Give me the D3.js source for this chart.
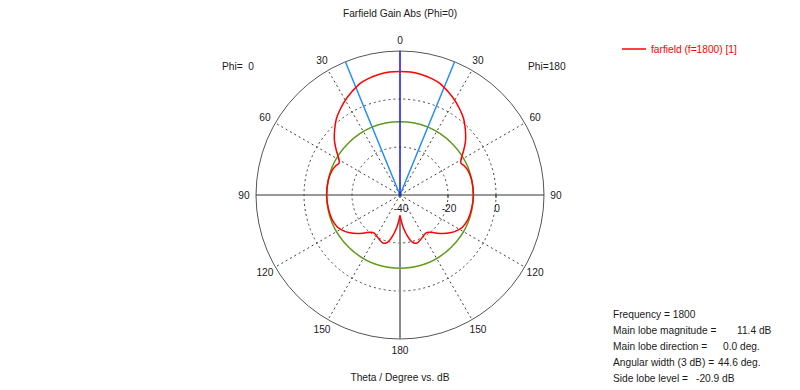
<!DOCTYPE html>
<html>
<head>
<meta charset="utf-8">
<script src="https://cdn.jsdelivr.net/npm/d3@7"></script>
<style>
  body { margin: 0; background: #fff; }
  svg text { font-family: "Liberation Sans", Arial, sans-serif; font-size: 10.2px; fill: #1a1a1a; }
</style>
</head>
<body>
<div id="chart"></div>
<script>
// farfield cut, theta in degrees (mirrored for both halves), gain in dB
var thetaDeg = [0, 5, 10, 15, 20, 22.3, 25, 30, 35, 40, 45, 50, 55, 58, 62, 66, 70, 78, 90, 100, 110, 117, 122, 127, 132, 137, 142, 146, 150, 155, 160, 164, 167, 170, 173, 175, 177, 180];
var gainDb   = [11.5, 11.4, 11.0, 10.3, 9.3, 8.4, 7.5, 5.6, 3.5, 1.3, -1.5, -4.3, -7.6, -9.6, -11.3, -10.5, -9.9, -9.5, -9.4, -9.6, -9.9, -10.7, -12.0, -13.8, -16.0, -18.4, -20.3, -20.8, -20.4, -19.6, -18.8, -19.2, -20.5, -22.8, -25.3, -27.0, -29.0, -31.5];

var angleTicks = [0, 30, 60, 90, 120, 150, 180];
var dbTicks = [-40, -20, 0];
var dbGrid = [-20, 0];
var mainLobeDir = 0;
var halfWidth = 22.3;      // 44.6 deg / 2
var sideLobeDb = -9.5;     // 11.4 - 20.9
var infoLabels = ["Frequency = 1800", "Main lobe magnitude =", "Main lobe direction =", "Angular width (3 dB) =", "Side lobe level ="];
var infoValues = ["", "11.4 dB", "0.0 deg.", "44.6 deg.", "-20.9 dB"];
var infoValueX = [0, 737, 723, 718, 696];

var width = 800, height = 390;
var cx = 400, cy = 195;

var svg = d3.select("#chart").append("svg")
  .attr("width", width)
  .attr("height", height);

var r = d3.scaleLinear().domain([-40, 20]).range([0, 144]);
var rad = function(deg) { return deg * Math.PI / 180; };

var g = svg.append("g").attr("transform", "translate(" + cx + "," + cy + ")");

// dashed grid circles
g.selectAll(".grid")
  .data(dbGrid)
  .enter().append("circle")
    .attr("r", function(d) { return r(d); })
    .attr("fill", "none")
    .attr("stroke", "#404040")
    .attr("stroke-dasharray", "2,3");

// dashed spokes
var spokes = [30, 60, 120, 150, -30, -60, -120, -150];
g.selectAll(".spoke")
  .data(spokes)
  .enter().append("line")
    .attr("x1", 0).attr("y1", 0)
    .attr("x2", function(d) { return r(20) * Math.sin(rad(d)); })
    .attr("y2", function(d) { return -r(20) * Math.cos(rad(d)); })
    .attr("stroke", "#404040")
    .attr("stroke-dasharray", "2,3");

// outer circle
g.append("circle")
  .attr("r", r(20))
  .attr("fill", "none")
  .attr("stroke", "#555");

// horizontal axis
g.append("line")
  .attr("x1", -r(20)).attr("x2", r(20))
  .attr("y1", 0).attr("y2", 0)
  .attr("stroke", "#333");

// small ticks on axis
g.selectAll(".tick")
  .data(dbTicks)
  .enter().append("line")
    .attr("x1", function(d) { return r(d); })
    .attr("x2", function(d) { return r(d); })
    .attr("y1", 0).attr("y2", 3)
    .attr("stroke", "#333");

// db labels
g.selectAll(".dblab")
  .data(dbTicks)
  .enter().append("text")
    .attr("x", function(d) { return r(d) + 1; })
    .attr("y", 17)
    .attr("text-anchor", "middle")
    .text(function(d) { return d; });

// angle labels
var angLab = [];
angleTicks.forEach(function(a) {
  angLab.push(a);
  if (a > 0 && a < 180) angLab.push(-a);
});
g.selectAll(".anglab")
  .data(angLab)
  .enter().append("text")
    .attr("x", function(d) { return 156 * Math.sin(rad(d)); })
    .attr("y", function(d) { return -155 * Math.cos(rad(d)); })
    .attr("dy", "0.35em")
    .attr("text-anchor", "middle")
    .text(function(d) { return Math.abs(d); });

// side lobe level circle
g.append("circle")
  .attr("r", r(sideLobeDb))
  .attr("fill", "none")
  .attr("stroke", "#5f9a1c")
  .attr("stroke-width", 1.5);

// direction at 180
var minDb = gainDb[gainDb.length - 1];
g.append("line")
  .attr("x1", 0).attr("y1", r(minDb))
  .attr("x2", 0).attr("y2", r(20))
  .attr("stroke", "#8a8a8a")
  .attr("stroke-width", 2);

// beam width lines
g.selectAll(".bw")
  .data([mainLobeDir - halfWidth, mainLobeDir + halfWidth])
  .enter().append("line")
    .attr("x1", 0).attr("y1", 0)
    .attr("x2", function(d) { return r(20) * Math.sin(rad(d)); })
    .attr("y2", function(d) { return -r(20) * Math.cos(rad(d)); })
    .attr("stroke", "#2b8cf0")
    .attr("stroke-width", 1.5);

// main lobe direction
g.append("line")
  .attr("x1", 0).attr("y1", 0)
  .attr("x2", r(20) * Math.sin(rad(mainLobeDir)))
  .attr("y2", -r(20) * Math.cos(rad(mainLobeDir)))
  .attr("stroke", "#1414e6")
  .attr("stroke-width", 1.5);

// farfield curve: -180 .. 180
var pts = [];
for (var i = thetaDeg.length - 1; i > 0; i--) pts.push([-thetaDeg[i], gainDb[i]]);
for (var j = 0; j < thetaDeg.length; j++) pts.push([thetaDeg[j], gainDb[j]]);

var line = d3.lineRadial()
  .angle(function(d) { return rad(d[0]); })
  .radius(function(d) { return r(d[1]); })
  .curve(d3.curveCatmullRom.alpha(0.5));

g.append("path")
  .datum(pts)
  .attr("d", line)
  .attr("fill", "none")
  .attr("stroke", "#ff0000")
  .attr("stroke-width", 1.5);

// titles
svg.append("text")
  .attr("x", 400).attr("y", 17)
  .attr("text-anchor", "middle")
  .text("Farfield Gain Abs (Phi=0)");

svg.append("text")
  .attr("x", 400).attr("y", 381)
  .attr("text-anchor", "middle")
  .text("Theta / Degree vs. dB");

svg.append("text")
  .attr("x", 222).attr("y", 70)
  .attr("xml:space", "preserve")
  .style("white-space", "pre")
  .text("Phi=  0");

svg.append("text")
  .attr("x", 528).attr("y", 70)
  .text("Phi=180");

// legend
svg.append("line")
  .attr("x1", 622).attr("x2", 646)
  .attr("y1", 49).attr("y2", 49)
  .attr("stroke", "#ff0000")
  .attr("stroke-width", 1.5);
svg.append("text")
  .attr("x", 651).attr("y", 53)
  .style("fill", "#ff0000")
  .text("farfield (f=1800) [1]");

// info box
svg.selectAll(".info")
  .data(infoLabels)
  .enter().append("text")
    .attr("x", 613)
    .attr("y", function(d, i) { return 318 + i * 16; })
    .text(function(d) { return d; });

svg.selectAll(".infov")
  .data(infoValues)
  .enter().append("text")
    .attr("x", function(d, i) { return infoValueX[i]; })
    .attr("y", function(d, i) { return 318 + i * 16; })
    .text(function(d) { return d; });
</script>
</body>
</html>
